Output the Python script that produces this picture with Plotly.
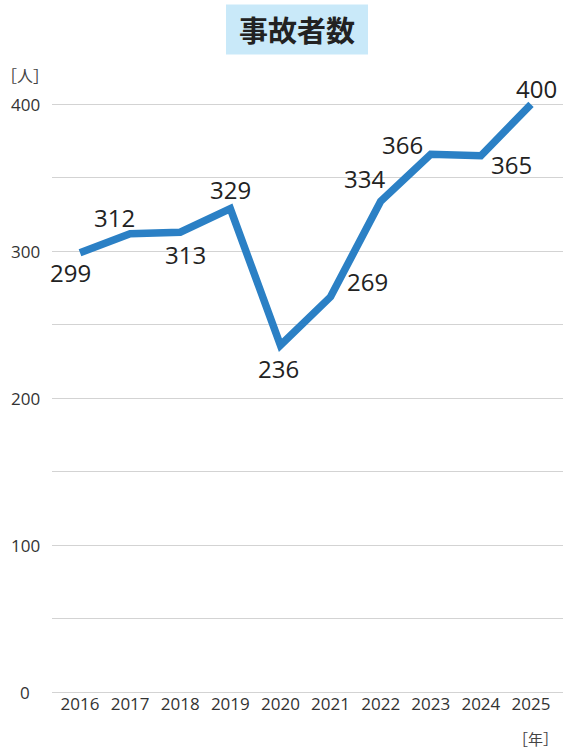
import plotly.graph_objects as go

years = [2016, 2017, 2018, 2019, 2020, 2021, 2022, 2023, 2024, 2025]
values = [299, 312, 313, 329, 236, 269, 334, 366, 365, 400]
# label offsets (px) relative to each point
label_dx = [-10, -16, 5, 0, -2, 37, -16, -28, 31, 6]
label_dy = [-20, 16, -22, 19, -23, 15, 23, 10, -9, 16]
y_ticks = [0, 100, 200, 300, 400]

W, H = 565, 749
ML, MR, MT, MB = 52, 2, 74.6, 57
PW, PH = W - ML - MR, H - MT - MB


def px_x(p):
    return (p - ML) / PW


def px_y(p):
    return (H - MB - p) / PH


fig = go.Figure()
fig.add_trace(go.Scatter(
    x=years, y=values, mode="lines",
    line=dict(color="#2b80c5", width=7.5),
    hoverinfo="skip",
))

ann = []
for x, v, dx, dy in zip(years, values, label_dx, label_dy):
    ann.append(dict(x=x, y=v, xref="x", yref="y", text=str(v), showarrow=False,
                    xshift=dx, yshift=dy, xanchor="center", yanchor="middle",
                    font=dict(family="Open Sans, Noto Sans", size=24, color="#222")))
for t in y_ticks:
    ann.append(dict(x=px_x(25), y=t, xref="paper", yref="y", text=str(t), showarrow=False,
                    xanchor="center", yanchor="middle",
                    font=dict(family="Open Sans, Noto Sans", size=17, color="#333")))

ann.append(dict(x=px_x(25), y=px_y(75), xref="paper", yref="paper",
                text="［人］", showarrow=False, xanchor="center", yanchor="middle",
                font=dict(family="Noto Sans CJK JP", size=16, color="#444")))
ann.append(dict(x=px_x(535), y=px_y(739), xref="paper", yref="paper", text="［年］",
                showarrow=False, xanchor="center", yanchor="middle",
                font=dict(family="Noto Sans CJK JP", size=15, color="#444")))
ann.append(dict(x=px_x(297), y=px_y(29), xref="paper", yref="paper",
                text="<b>事故者数</b>", showarrow=False,
                xanchor="center", yanchor="middle",
                font=dict(family="Noto Sans CJK JP", size=29, color="#222")))

shapes = [dict(type="rect", xref="paper", yref="paper",
               x0=px_x(226), x1=px_x(368), y0=px_y(54), y1=px_y(4),
               fillcolor="#c9e9f9", line=dict(width=0), layer="below")]

fig.update_layout(
    width=W, height=H,
    margin=dict(l=ML, r=MR, t=MT, b=MB),
    paper_bgcolor="white", plot_bgcolor="white",
    showlegend=False,
    annotations=ann,
    shapes=shapes,
    xaxis=dict(range=[2015.441, 2025.639], tickvals=years, ticktext=[str(y) for y in years],
               showgrid=False, zeroline=False, showline=False, ticks="",
               tickfont=dict(family="Open Sans, Noto Sans", size=17, color="#333")),
    yaxis=dict(range=[0, 420], dtick=50, showgrid=True, gridcolor="#d3d3d3", gridwidth=1,
               zeroline=True, zerolinecolor="#d3d3d3", zerolinewidth=1,
               showticklabels=False, ticks="", showline=False),
)

fig.write_html("out.html")
